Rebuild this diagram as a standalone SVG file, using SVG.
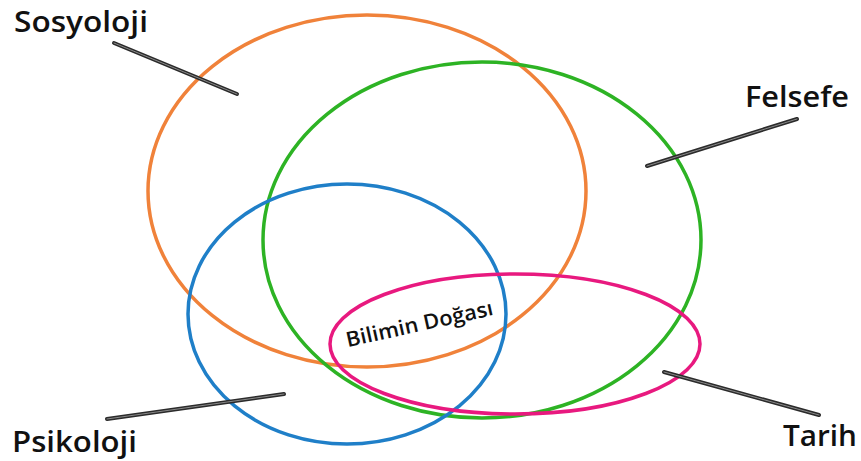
<svg xmlns="http://www.w3.org/2000/svg" width="861" height="461" viewBox="0 0 861 461">
<style>
.set{fill:none;stroke-width:3.5}
.lbl{font-family:"Open Sans","Liberation Sans",sans-serif;font-weight:600;fill:#111}
.ptr{stroke:#2b2b2b;stroke-width:4;stroke-linecap:round}
.ptr2{stroke:#8a8a8a;stroke-width:1;stroke-linecap:round}
</style>
<rect width="861" height="461" fill="#ffffff"/>
<g id="sosyoloji">
<ellipse class="set" cx="367" cy="191" rx="219" ry="176" stroke="#f0823a"/>
<text class="lbl" x="14" y="32" font-size="29" textLength="134" lengthAdjust="spacingAndGlyphs">Sosyoloji</text>
</g>
<g id="felsefe">
<ellipse class="set" cx="482" cy="240" rx="219" ry="178" stroke="#2db324"/>
<text class="lbl" x="745" y="107" font-size="29" textLength="104" lengthAdjust="spacingAndGlyphs">Felsefe</text>
</g>
<g id="psikoloji">
<ellipse class="set" cx="347" cy="314" rx="159" ry="130" stroke="#1f7fc8"/>
<text class="lbl" x="12" y="452" font-size="29" textLength="125" lengthAdjust="spacingAndGlyphs">Psikoloji</text>
</g>
<g id="tarih">
<ellipse class="set" cx="515" cy="344" rx="185" ry="70" stroke="#e8197f"/>
<text class="lbl" x="783" y="446" font-size="29" textLength="74" lengthAdjust="spacingAndGlyphs">Tarih</text>
</g>
<g id="bilimin-dogasi">
<text class="lbl" x="0" y="0" font-size="21" font-weight="500" text-anchor="middle" textLength="150" lengthAdjust="spacingAndGlyphs" transform="translate(421 331) rotate(-12.5)">Bilimin Doğası</text>
</g>
<g id="connectors">
<line class="ptr" x1="114" y1="43" x2="237" y2="94"/>
<line class="ptr" x1="647" y1="166" x2="797" y2="119"/>
<line class="ptr" x1="107" y1="419" x2="284" y2="394"/>
<line class="ptr" x1="664" y1="372" x2="819" y2="415"/>
<line class="ptr2" x1="114" y1="43" x2="237" y2="94"/>
<line class="ptr2" x1="647" y1="166" x2="797" y2="119"/>
<line class="ptr2" x1="107" y1="419" x2="284" y2="394"/>
<line class="ptr2" x1="664" y1="372" x2="819" y2="415"/>
</g>
</svg>
